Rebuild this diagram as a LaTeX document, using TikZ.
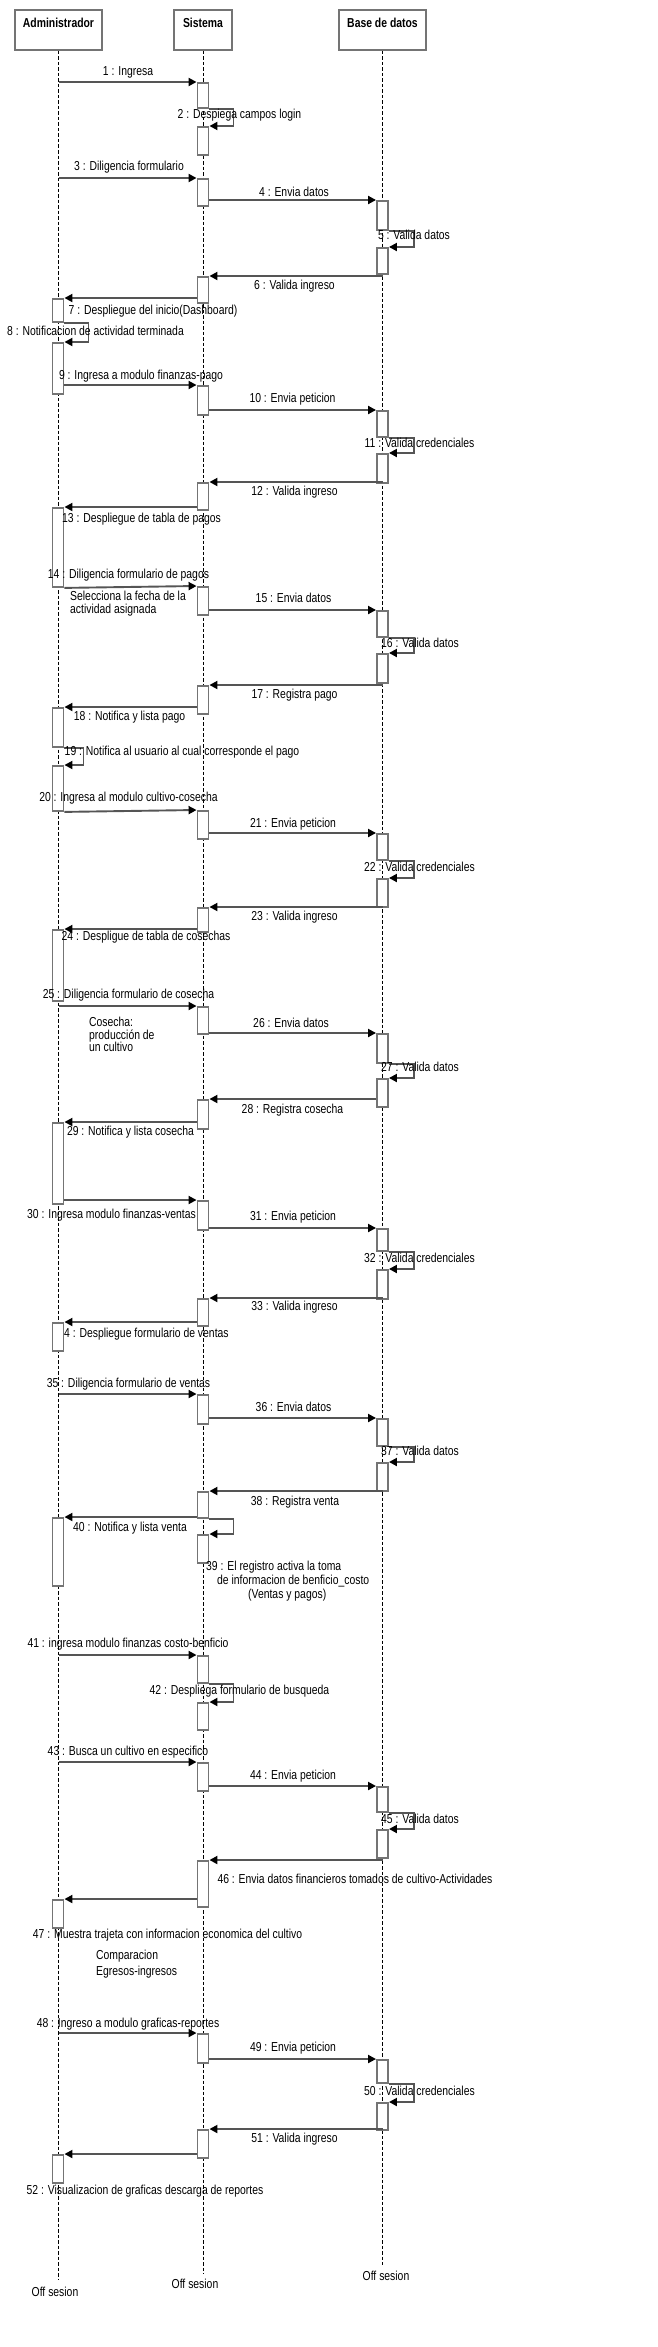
\documentclass[tikz,border=0pt]{standalone}
\usepackage{fontspec}
\setmainfont{Liberation Sans}[FakeStretch=0.8]
\usetikzlibrary{arrows.meta}
\definecolor{linegray}{HTML}{555555}
\definecolor{boxgray}{HTML}{747474}

\begin{document}
\begin{tikzpicture}[x=1pt,y=-1pt,
        head/.style={
            % The shape
            rectangle,
            minimum width=87pt,
            text height=18pt,
            text depth=22pt,
            inner ysep=0pt,
            % The border
            line width=2pt,
            draw = boxgray,
            fill = white,
            % Font
            font = \fontsize{13}{14}\selectfont\bfseries
        },
        lifeline/.style={
            % The line
            line width=0.9pt,
            dash pattern=on 3.5pt off 2pt,
            draw = black
        },
        bar/.style={
            % The shape
            rectangle,
            anchor=north,
            minimum width=11pt,
            inner sep=0pt,
            % The border
            line width=1.9pt,
            draw = boxgray,
            fill = white
        },
        msg/.style={
            % The line
            line width=1.9pt,
            draw = linegray,
            -{Triangle[length=8pt,width=8pt,black]}
        },
        msgtext/.style={
            inner sep=0pt,
            color = black,
            % Font
            font = \fontsize{13}{14}\selectfont
        },
    ]
        \useasboundingbox (0,0) rectangle (657,2347);

        % Lifelines
        \node (admin) [head] at (58.5,30) {Administrador};
        \node (sistema) [head,minimum width=58pt] at (203,30) {Sistema};
        \node (base) [head] at (382.5,30) {Base de datos};
        \coordinate (adminEnd) at (58.5,2279);
        \coordinate (sistemaEnd) at (203,2274);
        \coordinate (baseEnd) at (382.5,2265);
        \draw[lifeline] (admin) -- (adminEnd);
        \draw[lifeline] (sistema) -- (sistemaEnd);
        \draw[lifeline] (base) -- (baseEnd);
        \node (adminOff) [msgtext] at (55,2292) {Off sesion};
        \node (sistemaOff) [msgtext] at (195,2284) {Off sesion};
        \node (baseOff) [msgtext] at (386,2276) {Off sesion};

        % Login
        \node (s1) [bar,minimum height=25pt] at (203,82) {};
        \path (admin |- s1.north) edge[msg] (s1.north west);
        \node (t1) [msgtext] at (128,72) {1 : Ingresa};
        \node (s2) [bar,minimum height=28pt] at (203,126) {};
        \draw[msg] (s1.south east) -- ++(24,0) |- (s2.north east);
        \node (t2) [msgtext] at (239.5,115) {2 : Despiega campos login};

        \node (s3) [bar,minimum height=27pt] at (203,178) {};
        \path (admin |- s3.north) edge[msg] (s3.north west);
        \node (t3) [msgtext] at (129,167) {3 : Diligencia formulario};
        \node (b1) [bar,minimum height=29pt] at (382.5,200) {};
        \path (s3.east |- b1.north) edge[msg] (b1.north west);
        \node (t4) [msgtext] at (294,192) {4 : Envia datos};
        \node (b2) [bar,minimum height=26pt] at (382.5,247) {};
        \draw[msg] (b1.south east) -- ++(25,0) |- (b2.north east);
        \node (t5) [msgtext] at (414,235) {5 : Valida datos};
        \node (s4) [bar,minimum height=26pt] at (203,276) {};
        \path (b2.south |- s4.north) edge[msg] (s4.north east);
        \node (t6) [msgtext] at (294.5,286) {6 : Valida ingreso};
        \node (a1) [bar,minimum height=23pt] at (58,298) {};
        \path (s4.west |- a1.north) edge[msg] (a1.north east);
        \node (t7) [msgtext] at (153,311) {7 : Despliegue del inicio(Dashboard)};
        \node (a2) [bar,minimum height=51pt] at (58,342) {};
        \draw[msg] (a1.south east) -- ++(24,0) |- (a2.north east);
        \node (t8) [msgtext] at (95.5,331) {8 : Notificacion de actividad terminada};

        % Finanzas - pago
        \node (s5) [bar,minimum height=29pt] at (203,385) {};
        \path (a2.east |- s5.north) edge[msg] (s5.north west);
        \node (t9) [msgtext] at (141,376) {9 : Ingresa a modulo finanzas-pago};
        \node (b3) [bar,minimum height=26pt] at (382.5,410) {};
        \path (s5.east |- b3.north) edge[msg] (b3.north west);
        \node (t10) [msgtext] at (292.5,399) {10 : Envia peticion};
        \node (b4) [bar,minimum height=29pt] at (382.5,453) {};
        \draw[msg] (b3.south east) -- ++(25,0) |- (b4.north east);
        \node (t11) [msgtext] at (419.5,443) {11 : Valida credenciales};
        \node (s6) [bar,minimum height=27pt] at (203,482) {};
        \path (b4.south |- s6.north) edge[msg] (s6.north east);
        \node (t12) [msgtext] at (294.5,492) {12 : Valida ingreso};
        \node (a3) [bar,minimum height=79pt] at (58,507) {};
        \path (s6.west |- a3.north) edge[msg] (a3.north east);
        \node (t13) [msgtext] at (141.5,519) {13 : Despliegue de tabla de pagos};

        \node (s7) [bar,minimum height=28pt] at (203,586) {};
        \path (a3.south east) edge[msg] (s7.north west);
        \node (t14) [msgtext] at (128.5,575) {14 : Diligencia formulario de pagos};
        \node (notePago) [msgtext,align=left,anchor=west,font=\fontsize{13}{13}\selectfont] at (70,603.5) {Selecciona la fecha de la\\actividad asignada};
        \node (b5) [bar,minimum height=26pt] at (382.5,610) {};
        \path (s7.east |- b5.north) edge[msg] (b5.north west);
        \node (t15) [msgtext] at (293.5,598) {15 : Envia datos};
        \node (b6) [bar,minimum height=29pt] at (382.5,653) {};
        \draw[msg] (b5.south east) -- ++(25,0) |- (b6.north east);
        \node (t16) [msgtext] at (420,643) {16 : Valida datos};
        \node (s8) [bar,minimum height=28pt] at (203,685) {};
        \path (b6.south |- s8.north) edge[msg] (s8.north east);
        \node (t17) [msgtext] at (294.5,695) {17 : Registra pago};
        \node (a4) [bar,minimum height=39pt] at (58,707) {};
        \path (s8.west |- a4.north) edge[msg] (a4.north east);
        \node (t18) [msgtext] at (129.5,717) {18 : Notifica y lista pago};
        \node (a5) [bar,minimum height=45pt] at (58,765) {};
        \draw[msg] (a4.south east) -- ++(19,0) |- (a5.north east);
        \node (t19) [msgtext] at (182,752) {19 : Notifica al usuario al cual corresponde el pago};

        % Cultivo - cosecha
        \node (s9) [bar,minimum height=28pt] at (203,810) {};
        \path (a5.south east) edge[msg] (s9.north west);
        \node (t20) [msgtext] at (128.5,798) {20 : Ingresa al modulo cultivo-cosecha};
        \node (b7) [bar,minimum height=26pt] at (382.5,833) {};
        \path (s9.east |- b7.north) edge[msg] (b7.north west);
        \node (t21) [msgtext] at (293,824) {21 : Envia peticion};
        \node (b8) [bar,minimum height=28pt] at (382.5,878) {};
        \draw[msg] (b7.south east) -- ++(25,0) |- (b8.north east);
        \node (t22) [msgtext] at (419.5,867) {22 : Valida credenciales};
        \node (s10) [bar,minimum height=24pt] at (203,907) {};
        \path (b8.south |- s10.north) edge[msg] (s10.north east);
        \node (t23) [msgtext] at (294.5,917) {23 : Valida ingreso};
        \node (a6) [bar,minimum height=71pt] at (58,929) {};
        \path (s10.west |- a6.north) edge[msg] (a6.north east);
        \node (t24) [msgtext] at (146,937) {24 : Despligue de tabla de cosechas};

        \node (s11) [bar,minimum height=27pt] at (203,1006) {};
        \path (admin |- s11.north) edge[msg] (s11.north west);
        \node (t25) [msgtext] at (128.5,995) {25 : Diligencia formulario de cosecha};
        \node (noteCosecha) [msgtext,align=left,anchor=west,font=\fontsize{13}{12.5}\selectfont] at (89,1034.5) {Cosecha:\\producción de\\un cultivo};
        \node (b9) [bar,minimum height=29pt] at (382.5,1033) {};
        \path (s11.east |- b9.north) edge[msg] (b9.north west);
        \node (t26) [msgtext] at (291,1023) {26 : Envia datos};
        \node (b10) [bar,minimum height=28pt] at (382.5,1078) {};
        \draw[msg] (b9.south east) -- ++(25,0) |- (b10.north east);
        \node (t27) [msgtext] at (420,1067) {27 : Valida datos};
        \node (s12) [bar,minimum height=29pt] at (203,1099) {};
        \path (b10.west |- s12.north) edge[msg] (s12.north east);
        \node (t28) [msgtext] at (292.5,1110) {28 : Registra cosecha};
        \node (a7) [bar,minimum height=81pt] at (58,1122) {};
        \path (s12.west |- a7.north) edge[msg] (a7.north east);
        \node (t29) [msgtext] at (130.5,1132) {29 : Notifica y lista cosecha};

        % Finanzas - ventas
        \node (s13) [bar,minimum height=29pt] at (203,1200) {};
        \path (a7.east |- s13.north) edge[msg] (s13.north west);
        \node (t30) [msgtext] at (111.5,1215) {30 : Ingresa modulo finanzas-ventas};
        \node (b11) [bar,minimum height=22pt] at (382.5,1228) {};
        \path (s13.east |- b11.north) edge[msg] (b11.north west);
        \node (t31) [msgtext] at (293,1217) {31 : Envia peticion};
        \node (b12) [bar,minimum height=29pt] at (382.5,1269) {};
        \draw[msg] (b11.south east) -- ++(25,0) |- (b12.north east);
        \node (t32) [msgtext] at (419.5,1258) {32 : Valida credenciales};
        \node (s14) [bar,minimum height=27pt] at (203,1298) {};
        \path (b12.south |- s14.north) edge[msg] (s14.north east);
        \node (t33) [msgtext] at (294.5,1307) {33 : Valida ingreso};
        \node (t34) [msgtext] at (143.5,1334) {34 : Despliegue formulario de ventas};
        \node (a8) [bar,minimum height=28pt] at (58,1322) {};
        \path (s14.west |- a8.north) edge[msg] (a8.north east);

        \node (s15) [bar,minimum height=29pt] at (203,1394) {};
        \path (admin |- s15.north) edge[msg] (s15.north west);
        \node (t35) [msgtext] at (128.5,1384) {35 : Diligencia formulario de ventas};
        \node (b13) [bar,minimum height=27pt] at (382.5,1418) {};
        \path (s15.east |- b13.north) edge[msg] (b13.north west);
        \node (t36) [msgtext] at (293.5,1407) {36 : Envia datos};
        \node (b14) [bar,minimum height=28pt] at (382.5,1462) {};
        \draw[msg] (b13.south east) -- ++(25,0) |- (b14.north east);
        \node (t37) [msgtext] at (420,1451) {37 : Valida datos};
        \node (s16) [bar,minimum height=26pt] at (203,1491) {};
        \path (b14.south |- s16.north) edge[msg] (s16.north east);
        \node (t38) [msgtext] at (295,1502) {38 : Registra venta};
        \node (s17) [bar,minimum height=28pt] at (203,1534) {};
        \draw[msg] (s16.south east) -- ++(24,0) |- (s17.north east);
        \node (t39) [msgtext,align=left,anchor=west] at (206,1581) {39 : El registro activa la toma\\\hspace*{11pt}de informacion de benficio\_costo\\\hspace*{42pt}(Ventas y pagos)};
        \node (a9) [bar,minimum height=68pt] at (58,1517) {};
        \path (s16.west |- a9.north) edge[msg] (a9.north east);
        \node (t40) [msgtext] at (130,1528) {40 : Notifica y lista venta};

        % Finanzas costo-beneficio
        \node (s18) [bar,minimum height=27pt] at (203,1655) {};
        \path (admin |- s18.north) edge[msg] (s18.north west);
        \node (t41) [msgtext] at (128,1644) {41 : ingresa modulo finanzas costo-benficio};
        \node (s19) [bar,minimum height=27pt] at (203,1702) {};
        \draw[msg] (s18.south east) -- ++(24,0) |- (s19.north east);
        \node (t42) [msgtext] at (239.5,1691) {42 : Despliega formulario de busqueda};

        \node (s20) [bar,minimum height=28pt] at (203,1762) {};
        \path (admin |- s20.north) edge[msg] (s20.north west);
        \node (t43) [msgtext] at (128,1752) {43 : Busca un cultivo en especifico};
        \node (b15) [bar,minimum height=25pt] at (382.5,1786) {};
        \path (s20.east |- b15.north) edge[msg] (b15.north west);
        \node (t44) [msgtext] at (293,1776) {44 : Envia peticion};
        \node (b16) [bar,minimum height=28pt] at (382.5,1829) {};
        \draw[msg] (b15.south east) -- ++(25,0) |- (b16.north east);
        \node (t45) [msgtext] at (420,1819) {45 : Valida datos};
        \node (s21) [bar,minimum height=46pt] at (203,1860) {};
        \path (b16.south |- s21.north) edge[msg] (s21.north east);
        \node (t46) [msgtext] at (355,1879) {46 : Envia datos financieros tomados de cultivo-Actividades};
        \node (a10) [bar,minimum height=28pt] at (58,1899) {};
        \path (s21.west |- a10.north) edge[msg] (a10.north east);
        \node (t47) [msgtext] at (167.5,1935) {47 : Muestra trajeta con informacion economica del cultivo};
        \node (noteComparacion) [msgtext,align=left,anchor=west,font=\fontsize{13}{16}\selectfont] at (96,1964) {Comparacion\\Egresos-ingresos};

        % Graficas - reportes
        \node (s22) [bar,minimum height=29pt] at (203,2033) {};
        \path (admin |- s22.north) edge[msg] (s22.north west);
        \node (t48) [msgtext] at (128,2024) {48 : Ingreso a modulo graficas-reportes};
        \node (b17) [bar,minimum height=23pt] at (382.5,2059) {};
        \path (s22.east |- b17.north) edge[msg] (b17.north west);
        \node (t49) [msgtext] at (293,2048) {49 : Envia peticion};
        \node (b18) [bar,minimum height=27pt] at (382.5,2102) {};
        \draw[msg] (b17.south east) -- ++(25,0) |- (b18.north east);
        \node (t50) [msgtext] at (419.5,2091) {50 : Valida credenciales};
        \node (s23) [bar,minimum height=28pt] at (203,2129) {};
        \path (b18.south |- s23.north) edge[msg] (s23.north east);
        \node (t51) [msgtext] at (294.5,2139) {51 : Valida ingreso};
        \node (a11) [bar,minimum height=28pt] at (58,2154) {};
        \path (s23.west |- a11.north) edge[msg] (a11.north east);
        \node (t52) [msgtext] at (145,2191) {52 : Visualizacion de graficas descarga de reportes};

    \end{tikzpicture}
\end{document}
